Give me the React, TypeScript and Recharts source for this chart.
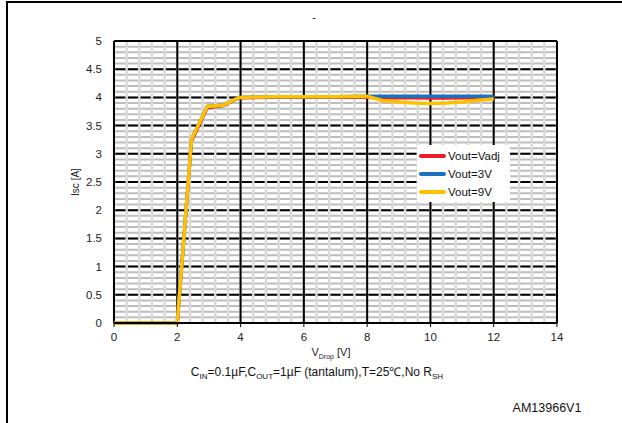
import React from "react";
import {
  LineChart,
  Line,
  XAxis,
  YAxis,
  CartesianGrid,
  Legend,
} from "recharts";

// V_Drop sample points [V]
const vDrop = [0, 1, 2, 2.45, 2.95, 3.45, 3.95, 5, 6, 7, 8, 8.5, 9, 9.5, 10, 10.5, 11, 11.5, 12];

// Short-circuit current [A] for each output setting
const iscVadj = [0, 0, 0, 3.22, 3.81, 3.85, 3.99, 4.0, 4.0, 4.0, 4.0, 3.99, 3.99, 3.99, 3.985, 3.985, 3.99, 3.99, 3.99];
const isc3V = [0, 0, 0, 3.26, 3.84, 3.86, 4.0, 4.01, 4.01, 4.01, 4.02, 4.02, 4.02, 4.02, 4.02, 4.02, 4.02, 4.02, 4.02];
const isc9V = [0, 0, 0, 3.26, 3.84, 3.86, 4.0, 4.01, 4.01, 4.01, 4.02, 3.94, 3.92, 3.9, 3.89, 3.9, 3.92, 3.95, 3.97];

const seriesNames = ["Vout=Vadj", "Vout=3V", "Vout=9V"];
const seriesColors = ["#EE1C25", "#1F6FBF", "#FFC000"];

const xTicks = [0, 2, 4, 6, 8, 10, 12, 14];
const yTicks = [0, 0.5, 1, 1.5, 2, 2.5, 3, 3.5, 4, 4.5, 5];

// grid steps
const xMinorStep = 0.4;
const yMinorStep = 0.1;

const range = (from: number, to: number, step: number) => {
  const out: number[] = [];
  const n = Math.round((to - from) / step);
  for (let i = 0; i <= n; i++) out.push(+(from + i * step).toFixed(4));
  return out;
};
const xMinor = range(0, 14, xMinorStep);
const yMinor = range(0, 5, yMinorStep);

const data = vDrop.map((v, i) => ({
  v,
  vadj: iscVadj[i],
  v3: isc3V[i],
  v9: isc9V[i],
}));

const FONT = "'Liberation Sans', Arial, sans-serif";

const renderLegend = () => (
  <div
    style={{
      background: "#fff",
      width: 93,
      height: 57,
      boxSizing: "border-box",
      paddingTop: 2,
      fontFamily: FONT,
      fontSize: 11.5,
      color: "#111",
    }}
  >
    {seriesNames.map((name, i) => (
      <div key={name} style={{ display: "flex", alignItems: "center", height: 18 }}>
        <div
          style={{
            width: 27,
            height: 4,
            background: seriesColors[i],
            marginLeft: 2,
            marginRight: 2,
            borderRadius: 2,
          }}
        />
        <span>{name}</span>
      </div>
    ))}
  </div>
);

export default function App() {
  return (
    <div
      style={{
        position: "absolute",
        left: 0,
        top: 0,
        width: 622,
        height: 423,
        background: "#fff",
        fontFamily: FONT,
      }}
    >
      <div
        style={{
          position: "absolute",
          left: 6,
          top: 1,
          width: 616,
          height: 422,
          borderTop: "2px solid #000",
          borderLeft: "2px solid #000",
          boxSizing: "border-box",
        }}
      />
      <LineChart
        width={622}
        height={423}
        data={data}
        margin={{ top: 41, right: 65, bottom: 70, left: 0 }}
        style={{ position: "absolute", left: 0, top: 0 }}
      >
        <text x={314} y={21} textAnchor="middle" fontSize={11} fontFamily={FONT} fill="#111">
          -
        </text>

        <CartesianGrid vertical={false} horizontalValues={yMinor} stroke="#bdbdbd" strokeWidth={2} />
        <CartesianGrid vertical={false} horizontalValues={yTicks} stroke="#000" strokeWidth={2} />
        <CartesianGrid horizontal={false} verticalValues={xMinor} stroke="#dadada" strokeWidth={2.5} />
        <CartesianGrid vertical={false} horizontalValues={[0, 5]} stroke="#000" strokeWidth={2} />
        <CartesianGrid horizontal={false} verticalValues={xTicks} stroke="#000" strokeWidth={2} />

        <XAxis
          dataKey="v"
          type="number"
          domain={[0, 14]}
          ticks={xTicks}
          interval={0}
          height={30}
          axisLine={{ stroke: "#000", strokeWidth: 2 }}
          tickLine={{ stroke: "#000" }}
          tickSize={4}
          tickMargin={6}
          tick={{ fontSize: 11.5, fill: "#222", fontFamily: FONT }}
        />
        <YAxis
          type="number"
          domain={[0, 5]}
          ticks={yTicks}
          interval={0}
          width={114}
          axisLine={false}
          tickLine={false}
          tickSize={0}
          tickMargin={12}
          tick={{ fontSize: 11.5, fill: "#222", fontFamily: FONT }}
        />

        <text
          x={75}
          y={182}
          transform="rotate(-90 75 182)"
          textAnchor="middle"
          dominantBaseline="central"
          fontSize={10}
          fontFamily={FONT}
          fill="#222"
        >
          Isc  [A]
        </text>

        <text x={331} y={356} textAnchor="middle" fontSize={11} fontFamily={FONT} fill="#222">
          V<tspan fontSize={7} dy={3}>Drop</tspan>
          <tspan dy={-3}>  [V]</tspan>
        </text>

        <text x={317} y={376} textAnchor="middle" fontSize={12} fontFamily={FONT} fill="#111">
          C<tspan fontSize={8} dy={3}>IN</tspan>
          <tspan dy={-3}>=0.1µF,C</tspan>
          <tspan fontSize={8} dy={3}>OUT</tspan>
          <tspan dy={-3}>=1µF (tantalum),T=25℃,No R</tspan>
          <tspan fontSize={8} dy={3}>SH</tspan>
        </text>

        <text x={547} y={412} textAnchor="middle" fontSize={12.5} fontFamily={FONT} fill="#111">
          AM13966V1
        </text>

        <Line
          type="linear"
          dataKey="vadj"
          name={seriesNames[0]}
          stroke={seriesColors[0]}
          strokeWidth={3}
          dot={false}
          isAnimationActive={false}
        />
        <Line
          type="linear"
          dataKey="v3"
          name={seriesNames[1]}
          stroke={seriesColors[1]}
          strokeWidth={3.5}
          dot={false}
          isAnimationActive={false}
        />
        <Line
          type="linear"
          dataKey="v9"
          name={seriesNames[2]}
          stroke={seriesColors[2]}
          strokeWidth={3.5}
          dot={false}
          isAnimationActive={false}
        />

        <Legend
          layout="vertical"
          align="center"
          verticalAlign="middle"
          content={renderLegend}
          wrapperStyle={{ position: "absolute", left: 417, top: 145, width: 93, height: 57 }}
        />
      </LineChart>
    </div>
  );
}
